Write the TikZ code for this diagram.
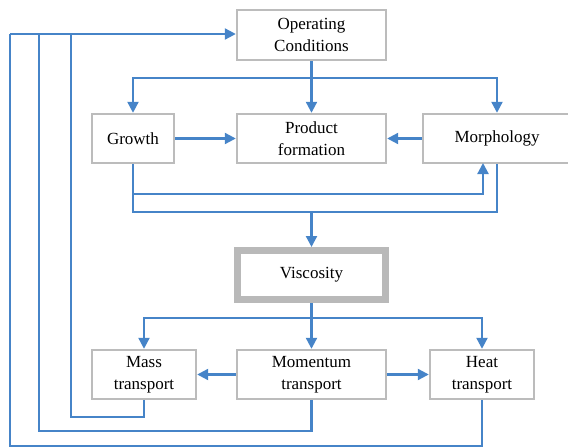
\documentclass[tikz,border=0pt]{standalone}
\usepackage{fontspec}
\setmainfont{Liberation Serif}
\usetikzlibrary{arrows.meta,shadows}
\definecolor{flow}{RGB}{70,132,200}
\definecolor{boxline}{RGB}{188,188,188}
\definecolor{thickline}{RGB}{185,185,185}
\begin{document}
\begin{tikzpicture}[x=1pt,y=-1pt,
  box/.style={draw=boxline,line width=2.4pt,fill=white,align=center,
    inner sep=0pt,font=\fontsize{17}{21.5}\selectfont,
    drop shadow={shadow xshift=1.2pt,shadow yshift=-1.2pt,fill=black!12,opacity=1}},
  keybox/.style={draw=thickline,line width=7pt,fill=white,align=center,
    inner sep=0pt,font=\fontsize{17}{21.5}\selectfont},
  flowline/.style={draw=flow,line width=2.2pt},
  flowarrow/.style={flowline,-{Triangle[length=11pt,width=11pt]}}]
\useasboundingbox (0,0) rectangle (568,447);

% blocks
\node[box,minimum width=149pt,minimum height=50pt] (oc) at (311.5,35) {Operating\\Conditions};
\node[box,minimum width=82pt,minimum height=49pt] (gr) at (133,138.5) {Growth};
\node[box,minimum width=149pt,minimum height=49pt] (pf) at (311.5,138.5) {Product\\formation};
\node[box,minimum width=148pt,minimum height=49pt] (mo) at (497,138.5) {Morphology};
\node[keybox,minimum width=148pt,minimum height=49pt] (vi) at (311.5,275) {Viscosity};
\node[box,minimum width=104pt,minimum height=49pt] (ma) at (144,374.5) {Mass\\transport};
\node[box,minimum width=149pt,minimum height=49pt] (mt) at (311.5,374.5) {Momentum\\transport};
\node[box,minimum width=104pt,minimum height=49pt] (ht) at (482,374.5) {Heat\\transport};

% routing points
\coordinate (ocsplit) at (311.5,78);
\coordinate (join) at (311.5,212);
\coordinate (vsplit) at (311.5,318);
\coordinate (ocin) at (10,34);

% operating conditions fan out to the three upper blocks
\draw[flowline] (oc.south) -- (ocsplit);
\draw[flowarrow] (ocsplit) -| (gr.north);
\draw[flowarrow] (ocsplit) -| (mo.north);
\draw[flowarrow] (ocsplit) -- (pf.north);

% side arrows into product formation
\draw[flowarrow] (gr.east) -- (pf.west);
\draw[flowarrow] (mo.west) -- (pf.east);

% growth influences morphology
\draw[flowarrow] (gr.south) -- (133,194) -- (483,194) -- (483,163);

% growth and morphology both act on viscosity
\draw[flowline] (gr.south) -- (133,212) -- (497,212) -- (mo.south);
\draw[flowarrow] (join) -- (vi.north);

% viscosity distributes to the transport blocks
\draw[flowarrow] (vi.south) -- (mt.north);
\draw[flowarrow] (vsplit) -| (ma.north);
\draw[flowarrow] (vsplit) -| (ht.north);
\draw[flowarrow] (mt.west) -- (ma.east);
\draw[flowarrow] (mt.east) -- (ht.west);

% feedback loops to operating conditions
\draw[flowline] (ma.south) -- (144,417) -- (71,417) -- (71,34);
\draw[flowline] (mt.south) -- (311.5,431) -- (39,431) -- (39,34);
\draw[flowline] (ht.south) -- (482,446) -- (10,446) -- (ocin);
\draw[flowarrow] (ocin) -- (oc.west |- ocin);
\end{tikzpicture}
\end{document}
